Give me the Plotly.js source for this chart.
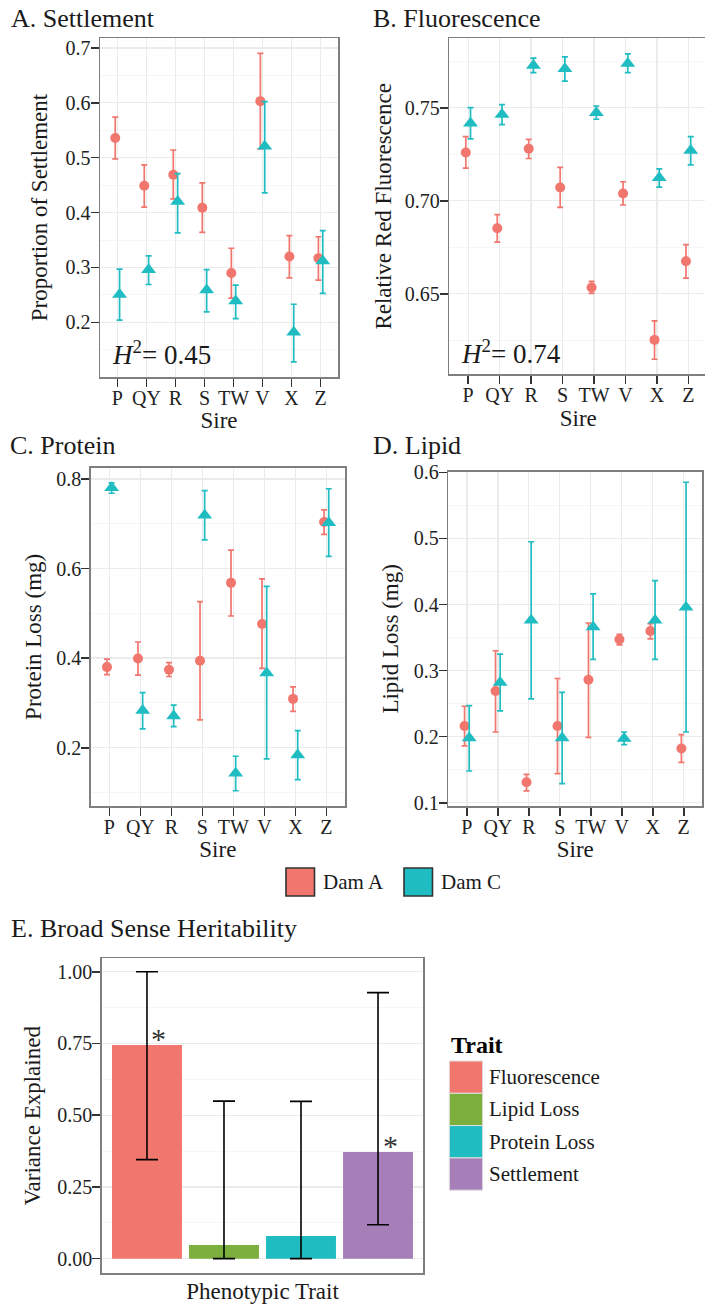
<!DOCTYPE html>
<html><head><meta charset="utf-8">
<script src="https://cdn.plot.ly/plotly-3.0.1.min.js"></script>
<style>html,body{margin:0;padding:0;overflow:hidden;background:#fff}</style>
</head><body><div id="chart"></div>
<script>
// ---------- data ----------
const sires = ['P','QY','R','S','TW','V','X','Z'];
const damNames = ['Dam A','Dam C'];

const settleA   = [0.536,0.449,0.469,0.409,0.290,0.603,0.320,0.317];
const settleAlo = [0.498,0.410,0.425,0.364,0.244,0.516,0.281,0.277];
const settleAhi = [0.574,0.487,0.514,0.454,0.335,0.690,0.358,0.356];
const settleC   = [0.251,0.296,0.420,0.259,0.239,0.521,0.182,0.312];
const settleClo = [0.204,0.269,0.363,0.219,0.207,0.436,0.128,0.253];
const settleChi = [0.297,0.321,0.471,0.296,0.268,0.602,0.233,0.367];

const fluorA   = [0.7259,0.6852,0.7279,0.7071,0.6534,0.7039,0.6252,0.6675];
const fluorAlo = [0.7175,0.6777,0.7227,0.6964,0.6502,0.6977,0.6148,0.6584];
const fluorAhi = [0.7345,0.6925,0.7330,0.7179,0.6566,0.7102,0.6354,0.6764];
const fluorC   = [0.7416,0.7463,0.7727,0.7709,0.7473,0.7738,0.7123,0.7270];
const fluorClo = [0.7332,0.7409,0.7688,0.7643,0.7438,0.7688,0.7073,0.7193];
const fluorChi = [0.7500,0.7516,0.7766,0.7773,0.7509,0.7789,0.7171,0.7345];

const proteinA   = [0.380,0.399,0.374,0.394,0.568,0.476,0.309,0.704];
const proteinAlo = [0.363,0.362,0.359,0.262,0.494,0.377,0.281,0.676];
const proteinAhi = [0.398,0.436,0.390,0.526,0.641,0.577,0.336,0.731];
const proteinC   = [0.780,0.283,0.271,0.719,0.143,0.367,0.184,0.702];
const proteinClo = [0.768,0.242,0.247,0.664,0.104,0.175,0.129,0.627];
const proteinChi = [0.791,0.323,0.295,0.774,0.181,0.560,0.238,0.778];

const lipidA   = [0.216,0.269,0.131,0.216,0.286,0.347,0.360,0.182];
const lipidAlo = [0.186,0.207,0.118,0.144,0.199,0.339,0.348,0.161];
const lipidAhi = [0.246,0.330,0.143,0.288,0.372,0.355,0.371,0.203];
const lipidC   = [0.198,0.282,0.376,0.198,0.366,0.197,0.376,0.396];
const lipidClo = [0.148,0.239,0.257,0.129,0.317,0.188,0.317,0.207];
const lipidChi = [0.247,0.325,0.495,0.267,0.416,0.207,0.436,0.585];

const h2Labels = ['0.45','0.74'];

const traits   = ['Fluorescence','Lipid Loss','Protein Loss','Settlement'];
const herit    = [0.7445,0.0476,0.079,0.3717];
const heritLo  = [0.345,0.0,0.0,0.118];
const heritHi  = [1.0,0.549,0.548,0.927];
const heritSig = ['*','','','*'];

// ---------- styling / layout helpers ----------
const W = 708, H = 1308;
const px = x => x / W, py = y => 1 - y / H;
const colA = '#F1766E', colC = '#1FBDC2';
const traitColors = ['#F1766E','#7DAF3F','#1FBDC2','#A67FB9'];
const FONT = 'Liberation Serif, Times New Roman, serif';
const TXT = '#1a1a1a';
const dodge = 0.075;
const idx = sires.map((s, i) => i + 1);

function pointTrace(vals, lo, hi, color, symbol, size, off, ax, name) {
  return {
    type: 'scatter', mode: 'markers', name: name, showlegend: false,
    x: idx.map(v => v + off), y: vals, xaxis: 'x' + ax, yaxis: 'y' + ax,
    text: sires, hovertemplate: '%{text}: %{y:.3f}<extra>' + name + '</extra>',
    marker: {color: color, symbol: symbol, size: size, line: {width: 0}},
    error_y: {type: 'data', symmetric: false,
      array: hi.map((h, i) => h - vals[i]),
      arrayminus: vals.map((v, i) => v - lo[i]),
      color: color, thickness: 1.7, width: 3}
  };
}

const panels = [
  {ax:'',  A:[settleA,settleAlo,settleAhi],   C:[settleC,settleClo,settleChi],
   xd:[100,338], yd:[38,377], yr:[0.1005,0.718], dt:0.1, fmt:'.1f', ys:11,
   ytitle:'Proportion of Settlement', title:'A. Settlement', tx:9, ty:18, h2:h2Labels[0], h2x:110, h2y:353},
  {ax:'2', A:[fluorA,fluorAlo,fluorAhi],       C:[fluorC,fluorClo,fluorChi],
   xd:[449.3,707.2], yd:[38.3,374.3], yr:[0.6067,0.7873], dt:0.05, fmt:'.2f', ys:6,
   ytitle:'Relative Red Fluorescence', title:'B. Fluorescence', tx:371, ty:18, h2:h2Labels[1], h2x:459, h2y:352},
  {ax:'3', A:[proteinA,proteinAlo,proteinAhi], C:[proteinC,proteinClo,proteinChi],
   xd:[90.7,345], yd:[467.7,806], yr:[0.070,0.825], dt:0.2, fmt:'.1f', ys:8,
   ytitle:'Protein Loss (mg)', title:'C. Protein', tx:8, ty:446},
  {ax:'4', A:[lipidA,lipidAlo,lipidAhi],       C:[lipidC,lipidClo,lipidChi],
   xd:[448.3,702.3], yd:[471.7,806], yr:[0.095,0.601], dt:0.1, fmt:'.1f', ys:8,
   ytitle:'Lipid Loss (mg)', title:'D. Lipid', tx:371, ty:446}
];

const traces = [];
const layout = {
  width: W, height: H, margin: {l:0, r:0, t:0, b:0},
  paper_bgcolor: '#fff', plot_bgcolor: '#fff',
  font: {family: FONT, color: TXT},
  showlegend: false, annotations: [], shapes: []
};

const gridMajor = '#EBEBEB', gridMinor = '#F5F5F5';
function baseAxis() {
  return {
    ticks: 'outside', ticklen: 8, tickwidth: 1.6, tickcolor: '#333',
    showline: true, mirror: true, linecolor: '#7F7F7F', linewidth: 1.5,
    zeroline: false, showgrid: true, gridcolor: gridMajor, gridwidth: 1.3,
    tickfont: {family: FONT, size: 20, color: '#222'}
  };
}

panels.forEach(p => {
  traces.push(pointTrace(p.A[0], p.A[1], p.A[2], colA, 'circle', 10, -dodge, p.ax, damNames[0]));
  traces.push(pointTrace(p.C[0], p.C[1], p.C[2], colC, 'triangle-up', 13, dodge, p.ax, damNames[1]));
  const xa = Object.assign(baseAxis(), {
    domain: [px(p.xd[0]), px(p.xd[1])], range: [0.4, 8.6],
    tickvals: idx, ticktext: sires, anchor: 'y' + p.ax, ticklabelstandoff: -6,
    title: {text: 'Sire', font: {size: 23, family: FONT, color: TXT}, standoff: 0}
  });
  const ya = Object.assign(baseAxis(), {
    domain: [py(p.yd[1]), py(p.yd[0])], range: p.yr, anchor: 'x' + p.ax,
    tick0: 0, dtick: p.dt, tickformat: p.fmt, ticklabelstandoff: -4,
    minor: {dtick: p.dt / 2, tick0: 0, showgrid: true, gridcolor: gridMinor, gridwidth: 0.9, ticks: ''},
    title: {text: p.ytitle, font: {size: 23, family: FONT, color: TXT}, standoff: p.ys}
  });
  layout['xaxis' + p.ax] = xa;
  layout['yaxis' + p.ax] = ya;
  layout.annotations.push({xref:'paper', yref:'paper', x: px(p.tx), y: py(p.ty),
    xanchor:'left', yanchor:'middle', showarrow:false, text: p.title,
    font: {size: 26, family: FONT, color: TXT}});
  if (p.h2) {
    layout.annotations.push({xref:'paper', yref:'paper', x: px(p.h2x), y: py(p.h2y),
      xanchor:'left', yanchor:'middle', showarrow:false,
      text: '<i>H</i><sup>2</sup>= ' + p.h2,
      font: {size: 27, family: FONT, color: TXT}});
  }
});

// ---------- panel E ----------
const barX = traits.map((t, i) => 1 + (i - 1.5) * 0.25);
traces.push({
  type: 'bar', x: barX, y: herit, width: 0.227, xaxis: 'x5', yaxis: 'y5',
  text: traits, textposition: 'none', hovertemplate: '%{text}: %{y:.2f}<extra></extra>',
  marker: {color: traitColors, line: {width: 0}}, showlegend: false,
  error_y: {type: 'data', symmetric: false,
    array: heritHi.map((h, i) => h - herit[i]),
    arrayminus: herit.map((v, i) => v - heritLo[i]),
    color: '#000', thickness: 1.6, width: 11}
});
layout.xaxis5 = Object.assign(baseAxis(), {
  domain: [px(101.7), px(423.3)], range: [0.478, 1.522], anchor: 'y5',
  showticklabels: false, ticks: '', showgrid: false,
  title: {text: 'Phenotypic Trait', font: {size: 23, family: FONT, color: TXT}, standoff: 9}
});
layout.yaxis5 = Object.assign(baseAxis(), {
  domain: [py(1273.3), py(958.3)], range: [-0.051, 1.0467], anchor: 'x5',
  tick0: 0, dtick: 0.25, tickformat: '.2f', ticklabelstandoff: -4,
  minor: {dtick: 0.125, tick0: 0, showgrid: true, gridcolor: gridMinor, gridwidth: 0.9, ticks: ''},
  title: {text: 'Variance Explained', font: {size: 23, family: FONT, color: TXT}, standoff: 10}
});
layout.annotations.push({xref:'paper', yref:'paper', x: px(9), y: py(928),
  xanchor:'left', yanchor:'middle', showarrow:false, text: 'E. Broad Sense Heritability',
  font: {size: 26, family: FONT, color: TXT}});
heritSig.forEach((s, i) => {
  if (!s) return;
  layout.annotations.push({xref:'x5', yref:'y5', x: barX[i], y: herit[i],
    xanchor:'center', yanchor:'middle', xshift: 12, yshift: 7, showarrow:false,
    text: s, font: {size: 30, family: FONT, color: '#333'}});
});

// ---------- Dam legend ----------
const damCols = [colA, colC];
const damKeyX = [286, 404];
damNames.forEach((n, i) => {
  layout.shapes.push({type:'rect', xref:'paper', yref:'paper',
    x0: px(damKeyX[i]), x1: px(damKeyX[i] + 28.5), y0: py(896), y1: py(868),
    fillcolor: damCols[i], line: {color: '#333', width: 1.6}});
  layout.annotations.push({xref:'paper', yref:'paper', x: px(damKeyX[i] + 35), y: py(882),
    xanchor:'left', yanchor:'middle', showarrow:false, text: n,
    font: {size: 21, family: FONT, color: TXT}});
});

// ---------- Trait legend ----------
layout.annotations.push({xref:'paper', yref:'paper', x: px(449), y: py(1045),
  xanchor:'left', yanchor:'middle', showarrow:false, text: '<b>Trait</b>',
  font: {size: 24, family: FONT, color: '#000'}});
traits.forEach((t, i) => {
  const y0 = 1061 + i * 32.3;
  layout.shapes.push({type:'rect', xref:'paper', yref:'paper',
    x0: px(449.3), x1: px(482.7), y0: py(y0 + 32.3), y1: py(y0),
    fillcolor: traitColors[i], line: {color: '#E0E0E0', width: 1}});
  layout.annotations.push({xref:'paper', yref:'paper', x: px(486.5), y: py(y0 + 16),
    xanchor:'left', yanchor:'middle', showarrow:false, text: t,
    font: {size: 21, family: FONT, color: TXT}});
});

Plotly.newPlot('chart', traces, layout, {displayModeBar: false, staticPlot: true});
</script>
</body></html>
